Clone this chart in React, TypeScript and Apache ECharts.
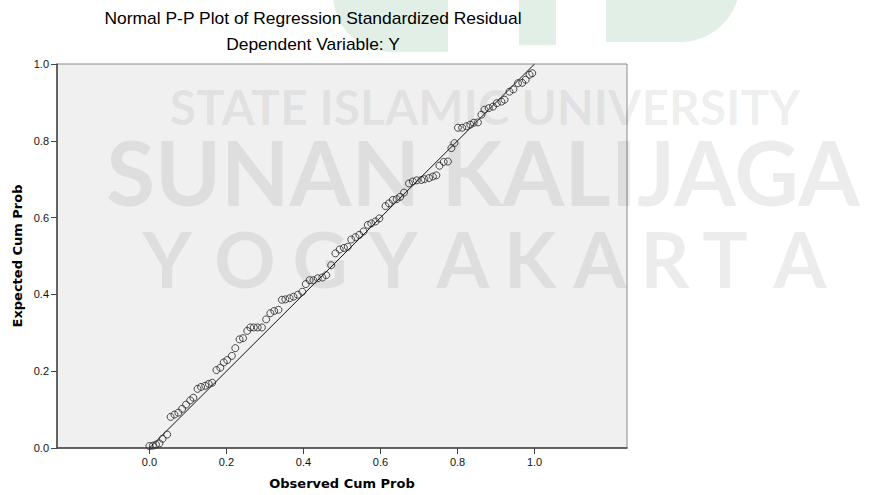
import React, { useEffect, useRef } from "react";
import * as echarts from "echarts";

const observed = [
  0.000, 0.009, 0.017, 0.026, 0.034, 0.046, 0.055, 0.065, 0.075, 0.085,
  0.095, 0.106, 0.114, 0.125, 0.134, 0.145, 0.154, 0.163, 0.174, 0.184,
  0.193, 0.202, 0.214, 0.223, 0.234, 0.243, 0.254, 0.262, 0.271, 0.281,
  0.292, 0.303, 0.314, 0.324, 0.335, 0.344, 0.353, 0.364, 0.374, 0.385,
  0.397, 0.406, 0.416, 0.426, 0.437, 0.449, 0.459, 0.472, 0.483, 0.494,
  0.505, 0.515, 0.524, 0.535, 0.545, 0.556, 0.567, 0.576, 0.587, 0.597,
  0.613, 0.622, 0.632, 0.642, 0.651, 0.661, 0.674, 0.684, 0.694, 0.706,
  0.714, 0.726, 0.736, 0.745, 0.753, 0.764, 0.775, 0.784, 0.792, 0.801,
  0.812, 0.823, 0.833, 0.842, 0.853, 0.862, 0.870, 0.881, 0.892, 0.902,
  0.914, 0.922, 0.935, 0.945, 0.957, 0.968, 0.977, 0.987, 0.994,
];

const expected = [
  0.005, 0.006, 0.009, 0.012, 0.024, 0.035, 0.081, 0.087, 0.092, 0.102,
  0.113, 0.124, 0.131, 0.154, 0.159, 0.162, 0.167, 0.170, 0.203, 0.209,
  0.223, 0.229, 0.240, 0.260, 0.283, 0.286, 0.305, 0.314, 0.314, 0.314,
  0.314, 0.335, 0.351, 0.357, 0.360, 0.386, 0.387, 0.390, 0.394, 0.399,
  0.407, 0.427, 0.437, 0.437, 0.442, 0.444, 0.450, 0.476, 0.507, 0.517,
  0.521, 0.524, 0.543, 0.549, 0.555, 0.564, 0.581, 0.585, 0.590, 0.598,
  0.630, 0.637, 0.646, 0.648, 0.654, 0.665, 0.689, 0.694, 0.697, 0.698,
  0.700, 0.703, 0.707, 0.710, 0.735, 0.745, 0.746, 0.781, 0.794, 0.834,
  0.834, 0.838, 0.842, 0.847, 0.848, 0.868, 0.881, 0.885, 0.889, 0.898,
  0.902, 0.907, 0.928, 0.934, 0.950, 0.951, 0.959, 0.972, 0.976,
];

const referenceLine = [
  [0, 0],
  [1, 1],
];

const tickValues = [0, 0.2, 0.4, 0.6, 0.8, 1.0];
const titleText = "Normal P-P Plot of Regression Standardized Residual";
const subtitleText = "Dependent Variable: Y";
const xName = "Observed Cum Prob";
const yName = "Expected Cum Prob";
const watermark1 = "STATE ISLAMIC UNIVERSITY";
const watermark2 = "SUNAN KALIJAGA";
const watermark3 = ["Y", "O", "G", "Y", "A", "K", "A", "R", "T", "A"];

export default function App() {
  const ref = useRef<HTMLDivElement>(null);

  useEffect(() => {
    document.body.style.margin = "0";
    const chart = echarts.init(ref.current!, null, { renderer: "svg" });
    const wm = "rgba(0,0,0,0.075)";
    const green = "#e1efe6";
    const letterX = [167, 245, 320, 393, 463, 530, 600, 665, 725, 800];
    const sans = '"Liberation Sans", Arial, sans-serif';
    const wmFont = 'Lato, "Open Sans", sans-serif';

    const graphics: any[] = [
      { type: "rect", z: 0, shape: { x: 333, y: -20, width: 115, height: 72, r: [0, 0, 0, 58] }, style: { fill: green } },
      { type: "rect", z: 0, shape: { x: 519, y: -5, width: 37, height: 50 }, style: { fill: green } },
      { type: "rect", z: 0, shape: { x: 606, y: -20, width: 134, height: 62, r: [0, 0, 60, 0] }, style: { fill: green } },
      {
        type: "text", z: 1, x: 485, y: 106,
        style: { text: watermark1, font: `bold 48px ${wmFont}`, fill: wm, textAlign: "center", textVerticalAlign: "middle" },
      },
      {
        type: "text", z: 1, x: 483, y: 171,
        style: { text: watermark2, font: `bold 89px ${wmFont}`, fill: wm, textAlign: "center", textVerticalAlign: "middle" },
      },
      ...watermark3.map((ch, i) => ({
        type: "text", z: 1, x: letterX[i], y: 258,
        style: { text: ch, font: `bold 76px ${wmFont}`, fill: wm, textAlign: "center", textVerticalAlign: "middle" },
      })),
      {
        type: "text", z: 10, x: 313, y: 19, scaleX: 1.09,
        style: { text: titleText, font: `16px ${sans}`, fill: "#000", textAlign: "center", textVerticalAlign: "middle" },
      },
      {
        type: "text", z: 10, x: 313, y: 45, scaleX: 1.09,
        style: { text: subtitleText, font: `16px ${sans}`, fill: "#000", textAlign: "center", textVerticalAlign: "middle" },
      },
      {
        type: "text", z: 10, x: 342, y: 483,
        style: { text: xName, font: `bold 13px "DejaVu Sans", sans-serif`, fill: "#000", textAlign: "center", textVerticalAlign: "middle" },
      },
      {
        type: "text", z: 10, x: 17, y: 256, rotation: Math.PI / 2,
        style: { text: yName, font: `bold 13px "DejaVu Sans", sans-serif`, fill: "#000", textAlign: "center", textVerticalAlign: "middle" },
      },
    ];

    chart.setOption({
      animation: false,
      backgroundColor: "#ffffff",
      grid: {
        left: 57,
        right: 246,
        top: 64,
        bottom: 47,
        show: true,
        backgroundColor: "#f0f0f0",
        borderColor: "#8a8a8a",
        borderWidth: 1,
      },
      xAxis: {
        type: "value",
        min: -0.24,
        max: 1.24,
        axisLine: { show: true, onZero: false, lineStyle: { color: "#444", width: 1.5 } },
        axisTick: { show: true, length: 6, customValues: tickValues, lineStyle: { color: "#444" } },
        axisLabel: {
          customValues: tickValues,
          formatter: (v: number) => v.toFixed(1),
          margin: 8,
          fontSize: 11,
          fontFamily: sans,
          color: "#111",
        },
        splitLine: { show: false },
      },
      yAxis: {
        type: "value",
        min: 0,
        max: 1,
        interval: 0.2,
        axisLine: { show: true, onZero: false, lineStyle: { color: "#444", width: 1.5 } },
        axisTick: { show: true, length: 6, lineStyle: { color: "#444" } },
        axisLabel: {
          formatter: (v: number) => v.toFixed(1),
          margin: 8,
          fontSize: 11,
          fontFamily: sans,
          color: "#111",
        },
        splitLine: { show: false },
      },
      series: [
        {
          type: "line",
          data: referenceLine,
          symbol: "none",
          showSymbol: false,
          silent: true,
          z: 3,
          lineStyle: { color: "#111", width: 1 },
        },
        {
          type: "scatter",
          data: observed.map((x, i) => [x, expected[i]]),
          symbol: "circle",
          symbolSize: 7,
          z: 4,
          itemStyle: { color: "rgba(0,0,0,0)", borderColor: "#222", borderWidth: 1 },
        },
      ],
      graphic: graphics,
    });

    return () => chart.dispose();
  }, []);

  return (
    <div
      ref={ref}
      style={{ position: "absolute", left: 0, top: 0, width: 873, height: 495 }}
    />
  );
}
